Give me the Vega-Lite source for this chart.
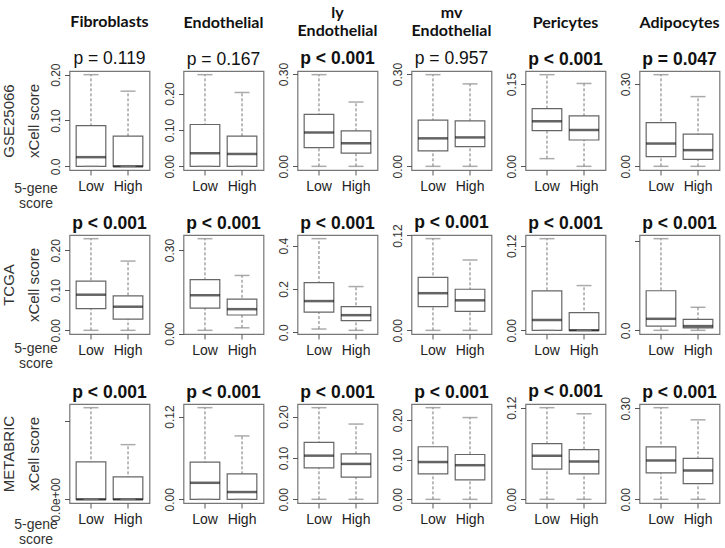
{
"$schema": "https://vega.github.io/schema/vega-lite/v6.json",
"padding": {"left": 0.5, "top": 4, "right": 2, "bottom": 2},
"background": "white",
"datasets": {"b": [
{"ds":"GSE25066","cell":"Fibroblasts","grp":"Low","lo":0,"q1":0,"med":0.020,"q3":0.089,"hi":0.200},
{"ds":"GSE25066","cell":"Fibroblasts","grp":"High","lo":0,"q1":0,"med":0,"q3":0.066,"hi":0.164},
{"ds":"GSE25066","cell":"Endothelial","grp":"Low","lo":0,"q1":0,"med":0.036,"q3":0.115,"hi":0.252},
{"ds":"GSE25066","cell":"Endothelial","grp":"High","lo":0,"q1":0,"med":0.034,"q3":0.083,"hi":0.203},
{"ds":"GSE25066","cell":"ly Endothelial","grp":"Low","lo":0,"q1":0.061,"med":0.110,"q3":0.169,"hi":0.298},
{"ds":"GSE25066","cell":"ly Endothelial","grp":"High","lo":0,"q1":0.043,"med":0.075,"q3":0.115,"hi":0.209},
{"ds":"GSE25066","cell":"mv Endothelial","grp":"Low","lo":0,"q1":0.050,"med":0.091,"q3":0.150,"hi":0.298},
{"ds":"GSE25066","cell":"mv Endothelial","grp":"High","lo":0,"q1":0.064,"med":0.094,"q3":0.148,"hi":0.268},
{"ds":"GSE25066","cell":"Pericytes","grp":"Low","lo":0.014,"q1":0.065,"med":0.082,"q3":0.105,"hi":0.167},
{"ds":"GSE25066","cell":"Pericytes","grp":"High","lo":0,"q1":0.048,"med":0.066,"q3":0.092,"hi":0.151},
{"ds":"GSE25066","cell":"Adipocytes","grp":"Low","lo":0,"q1":0.035,"med":0.083,"q3":0.159,"hi":0.334},
{"ds":"GSE25066","cell":"Adipocytes","grp":"High","lo":0,"q1":0.025,"med":0.059,"q3":0.117,"hi":0.254},
{"ds":"TCGA","cell":"Fibroblasts","grp":"Low","lo":0,"q1":0.054,"med":0.089,"q3":0.123,"hi":0.229},
{"ds":"TCGA","cell":"Fibroblasts","grp":"High","lo":0,"q1":0.028,"med":0.059,"q3":0.086,"hi":0.173},
{"ds":"TCGA","cell":"Endothelial","grp":"Low","lo":0.012,"q1":0.092,"med":0.138,"q3":0.194,"hi":0.341},
{"ds":"TCGA","cell":"Endothelial","grp":"High","lo":0.021,"q1":0.067,"med":0.088,"q3":0.124,"hi":0.209},
{"ds":"TCGA","cell":"ly Endothelial","grp":"Low","lo":0.015,"q1":0.093,"med":0.144,"q3":0.229,"hi":0.432},
{"ds":"TCGA","cell":"ly Endothelial","grp":"High","lo":0.009,"q1":0.054,"med":0.079,"q3":0.118,"hi":0.211},
{"ds":"TCGA","cell":"mv Endothelial","grp":"Low","lo":0,"q1":0.030,"med":0.047,"q3":0.067,"hi":0.116},
{"ds":"TCGA","cell":"mv Endothelial","grp":"High","lo":0,"q1":0.024,"med":0.038,"q3":0.052,"hi":0.089},
{"ds":"TCGA","cell":"Pericytes","grp":"Low","lo":0,"q1":0,"med":0.0145,"q3":0.056,"hi":0.130},
{"ds":"TCGA","cell":"Pericytes","grp":"High","lo":0,"q1":0,"med":0,"q3":0.025,"hi":0.0635},
{"ds":"TCGA","cell":"Adipocytes","grp":"Low","lo":0,"q1":0.033,"med":0.090,"q3":0.309,"hi":0.716},
{"ds":"TCGA","cell":"Adipocytes","grp":"High","lo":0,"q1":0.020,"med":0.033,"q3":0.085,"hi":0.180},
{"ds":"METABRIC","cell":"Fibroblasts","grp":"Low","lo":0,"q1":0,"med":0,"q3":7.2e-18,"hi":1.76e-17},
{"ds":"METABRIC","cell":"Fibroblasts","grp":"High","lo":0,"q1":0,"med":0,"q3":4.3e-18,"hi":1.05e-17},
{"ds":"METABRIC","cell":"Endothelial","grp":"Low","lo":0,"q1":0,"med":0.024,"q3":0.054,"hi":0.133},
{"ds":"METABRIC","cell":"Endothelial","grp":"High","lo":0,"q1":0,"med":0.0106,"q3":0.037,"hi":0.092},
{"ds":"METABRIC","cell":"ly Endothelial","grp":"Low","lo":0,"q1":0.076,"med":0.1056,"q3":0.1376,"hi":0.2216},
{"ds":"METABRIC","cell":"ly Endothelial","grp":"High","lo":0,"q1":0.0536,"med":0.0856,"q3":0.110,"hi":0.182},
{"ds":"METABRIC","cell":"mv Endothelial","grp":"Low","lo":0,"q1":0.064,"med":0.094,"q3":0.1325,"hi":0.231},
{"ds":"METABRIC","cell":"mv Endothelial","grp":"High","lo":0,"q1":0.049,"med":0.086,"q3":0.113,"hi":0.206},
{"ds":"METABRIC","cell":"Pericytes","grp":"Low","lo":0,"q1":0.0395,"med":0.057,"q3":0.073,"hi":0.120},
{"ds":"METABRIC","cell":"Pericytes","grp":"High","lo":0,"q1":0.0334,"med":0.0494,"q3":0.065,"hi":0.112},
{"ds":"METABRIC","cell":"Adipocytes","grp":"Low","lo":0,"q1":0.087,"med":0.128,"q3":0.173,"hi":0.302},
{"ds":"METABRIC","cell":"Adipocytes","grp":"High","lo":0,"q1":0.052,"med":0.095,"q3":0.135,"hi":0.262}
]},
"data": {"name": "b"},
"spacing": 1,
"vconcat": [
{"spacing": 10, "hconcat": [
{"width":80,"height":99,
"title":{"text":"Fibroblasts","subtitle":"p = 0.119","font":"Lato","fontWeight":"bold","fontSize":16,"subtitleFontWeight":"normal","subtitlePadding":20,"offset":-5},
"transform":[{"filter":"datum.ds==='GSE25066'&&datum.cell==='Fibroblasts'"}],
"encoding":{"x":{"field":"grp","type":"nominal","scale":{"domain":["Low","High"],"paddingInner":0,"paddingOuter":0.08},"title":["5-gene","score"],"axis":{"titleX":-34,"titleY":11,"titleAlign":"center","titleBaseline":"top","titleFontSize":14,"titleLineHeight":15.5}}},
"layer":[
{"mark":"rule","encoding":{"y":{"field":"lo","type":"quantitative","scale":{"domain":[-0.008,0.208],"nice":false,"zero":false},"title":["GSE25066","xCell score"],"axis":{"values":[0,0.05,0.1,0.15,0.2],"labelExpr":"datum.value===0?'0.0':indexof([0.1,0.2],datum.value)>=0?format(datum.value,'.2f'):''"}},"y2":{"field":"hi"}}},
{"mark":{"type":"bar","width":{"band":0.8}},"encoding":{"y":{"field":"q1","type":"quantitative","scale":{"domain":[-0.008,0.208],"nice":false,"zero":false},"title":["GSE25066","xCell score"]},"y2":{"field":"q3"}}},
{"mark":{"type":"tick","color":"#222","thickness":2.5,"size":30},"encoding":{"y":{"field":"med","type":"quantitative","scale":{"domain":[-0.008,0.208],"nice":false,"zero":false},"title":["GSE25066","xCell score"]}}},
{"mark":"tick","encoding":{"y":{"field":"hi","type":"quantitative","scale":{"domain":[-0.008,0.208],"nice":false,"zero":false},"title":["GSE25066","xCell score"]}}},
{"mark":"tick","encoding":{"y":{"field":"lo","type":"quantitative","scale":{"domain":[-0.008,0.208],"nice":false,"zero":false},"title":["GSE25066","xCell score"]}}}
]},
{"width":80,"height":99,
"title":{"text":"Endothelial","subtitle":"p = 0.167","font":"Lato","fontWeight":"bold","fontSize":16,"subtitleFontWeight":"normal","subtitlePadding":20,"offset":3},
"transform":[{"filter":"datum.ds==='GSE25066'&&datum.cell==='Endothelial'"}],
"encoding":{"x":{"field":"grp","type":"nominal","scale":{"domain":["Low","High"],"paddingInner":0,"paddingOuter":0.08},"title":null}},
"layer":[
{"mark":"rule","encoding":{"y":{"field":"lo","type":"quantitative","scale":{"domain":[-0.0101,0.2621],"nice":false,"zero":false},"title":null,"axis":{"values":[0,0.05,0.1,0.15,0.2,0.25],"labelExpr":"indexof([0,0.1,0.2],datum.value)>=0?format(datum.value,'.2f'):''"}},"y2":{"field":"hi"}}},
{"mark":{"type":"bar","width":{"band":0.8}},"encoding":{"y":{"field":"q1","type":"quantitative","scale":{"domain":[-0.0101,0.2621],"nice":false,"zero":false},"title":null},"y2":{"field":"q3"}}},
{"mark":{"type":"tick","color":"#222","thickness":2.5,"size":30},"encoding":{"y":{"field":"med","type":"quantitative","scale":{"domain":[-0.0101,0.2621],"nice":false,"zero":false},"title":null}}},
{"mark":"tick","encoding":{"y":{"field":"hi","type":"quantitative","scale":{"domain":[-0.0101,0.2621],"nice":false,"zero":false},"title":null}}},
{"mark":"tick","encoding":{"y":{"field":"lo","type":"quantitative","scale":{"domain":[-0.0101,0.2621],"nice":false,"zero":false},"title":null}}}
]},
{"width":80,"height":99,
"title":{"text":["ly","Endothelial"],"subtitle":"p < 0.001","font":"Lato","fontWeight":"bold","fontSize":16,"lineHeight":18,"subtitleFontWeight":"bold","subtitlePadding":11,"offset":-5.6},
"transform":[{"filter":"datum.ds==='GSE25066'&&datum.cell==='ly Endothelial'"}],
"encoding":{"x":{"field":"grp","type":"nominal","scale":{"domain":["Low","High"],"paddingInner":0,"paddingOuter":0.08},"title":null}},
"layer":[
{"mark":"rule","encoding":{"y":{"field":"lo","type":"quantitative","scale":{"domain":[-0.0119,0.3099],"nice":false,"zero":false},"title":null,"axis":{"values":[0,0.05,0.1,0.15,0.2,0.25,0.3],"labelExpr":"indexof([0,0.1,0.2,0.3],datum.value)>=0?format(datum.value,'.2f'):''"}},"y2":{"field":"hi"}}},
{"mark":{"type":"bar","width":{"band":0.8}},"encoding":{"y":{"field":"q1","type":"quantitative","scale":{"domain":[-0.0119,0.3099],"nice":false,"zero":false},"title":null},"y2":{"field":"q3"}}},
{"mark":{"type":"tick","color":"#222","thickness":2.5,"size":30},"encoding":{"y":{"field":"med","type":"quantitative","scale":{"domain":[-0.0119,0.3099],"nice":false,"zero":false},"title":null}}},
{"mark":"tick","encoding":{"y":{"field":"hi","type":"quantitative","scale":{"domain":[-0.0119,0.3099],"nice":false,"zero":false},"title":null}}},
{"mark":"tick","encoding":{"y":{"field":"lo","type":"quantitative","scale":{"domain":[-0.0119,0.3099],"nice":false,"zero":false},"title":null}}}
]},
{"width":80,"height":99,
"title":{"text":["mv","Endothelial"],"subtitle":"p = 0.957","font":"Lato","fontWeight":"bold","fontSize":16,"lineHeight":18,"subtitleFontWeight":"normal","subtitlePadding":11,"offset":-5.6},
"transform":[{"filter":"datum.ds==='GSE25066'&&datum.cell==='mv Endothelial'"}],
"encoding":{"x":{"field":"grp","type":"nominal","scale":{"domain":["Low","High"],"paddingInner":0,"paddingOuter":0.08},"title":null}},
"layer":[
{"mark":"rule","encoding":{"y":{"field":"lo","type":"quantitative","scale":{"domain":[-0.0119,0.3099],"nice":false,"zero":false},"title":null,"axis":{"values":[0,0.05,0.1,0.15,0.2,0.25,0.3],"labelExpr":"indexof([0,0.1,0.2,0.3],datum.value)>=0?format(datum.value,'.2f'):''"}},"y2":{"field":"hi"}}},
{"mark":{"type":"bar","width":{"band":0.8}},"encoding":{"y":{"field":"q1","type":"quantitative","scale":{"domain":[-0.0119,0.3099],"nice":false,"zero":false},"title":null},"y2":{"field":"q3"}}},
{"mark":{"type":"tick","color":"#222","thickness":2.5,"size":30},"encoding":{"y":{"field":"med","type":"quantitative","scale":{"domain":[-0.0119,0.3099],"nice":false,"zero":false},"title":null}}},
{"mark":"tick","encoding":{"y":{"field":"hi","type":"quantitative","scale":{"domain":[-0.0119,0.3099],"nice":false,"zero":false},"title":null}}},
{"mark":"tick","encoding":{"y":{"field":"lo","type":"quantitative","scale":{"domain":[-0.0119,0.3099],"nice":false,"zero":false},"title":null}}}
]},
{"width":80,"height":99,
"title":{"text":"Pericytes","subtitle":"p < 0.001","font":"Lato","fontWeight":"bold","fontSize":16,"subtitleFontWeight":"bold","subtitlePadding":20,"offset":3},
"transform":[{"filter":"datum.ds==='GSE25066'&&datum.cell==='Pericytes'"}],
"encoding":{"x":{"field":"grp","type":"nominal","scale":{"domain":["Low","High"],"paddingInner":0,"paddingOuter":0.08},"title":null}},
"layer":[
{"mark":"rule","encoding":{"y":{"field":"lo","type":"quantitative","scale":{"domain":[-0.0067,0.1737],"nice":false,"zero":false},"title":null,"axis":{"values":[0,0.05,0.1,0.15],"format":".2f"}},"y2":{"field":"hi"}}},
{"mark":{"type":"bar","width":{"band":0.8}},"encoding":{"y":{"field":"q1","type":"quantitative","scale":{"domain":[-0.0067,0.1737],"nice":false,"zero":false},"title":null},"y2":{"field":"q3"}}},
{"mark":{"type":"tick","color":"#222","thickness":2.5,"size":30},"encoding":{"y":{"field":"med","type":"quantitative","scale":{"domain":[-0.0067,0.1737],"nice":false,"zero":false},"title":null}}},
{"mark":"tick","encoding":{"y":{"field":"hi","type":"quantitative","scale":{"domain":[-0.0067,0.1737],"nice":false,"zero":false},"title":null}}},
{"mark":"tick","encoding":{"y":{"field":"lo","type":"quantitative","scale":{"domain":[-0.0067,0.1737],"nice":false,"zero":false},"title":null}}}
]},
{"width":80,"height":99,
"title":{"text":"Adipocytes","subtitle":"p = 0.047","font":"Lato","fontWeight":"bold","fontSize":16,"subtitleFontWeight":"bold","subtitlePadding":20,"offset":3},
"transform":[{"filter":"datum.ds==='GSE25066'&&datum.cell==='Adipocytes'"}],
"encoding":{"x":{"field":"grp","type":"nominal","scale":{"domain":["Low","High"],"paddingInner":0,"paddingOuter":0.08},"title":null}},
"layer":[
{"mark":"rule","encoding":{"y":{"field":"lo","type":"quantitative","scale":{"domain":[-0.0134,0.3474],"nice":false,"zero":false},"title":null,"axis":{"values":[0,0.05,0.1,0.15,0.2,0.25,0.3],"labelExpr":"indexof([0,0.1,0.2,0.3],datum.value)>=0?format(datum.value,'.2f'):''"}},"y2":{"field":"hi"}}},
{"mark":{"type":"bar","width":{"band":0.8}},"encoding":{"y":{"field":"q1","type":"quantitative","scale":{"domain":[-0.0134,0.3474],"nice":false,"zero":false},"title":null},"y2":{"field":"q3"}}},
{"mark":{"type":"tick","color":"#222","thickness":2.5,"size":30},"encoding":{"y":{"field":"med","type":"quantitative","scale":{"domain":[-0.0134,0.3474],"nice":false,"zero":false},"title":null}}},
{"mark":"tick","encoding":{"y":{"field":"hi","type":"quantitative","scale":{"domain":[-0.0134,0.3474],"nice":false,"zero":false},"title":null}}},
{"mark":"tick","encoding":{"y":{"field":"lo","type":"quantitative","scale":{"domain":[-0.0134,0.3474],"nice":false,"zero":false},"title":null}}}
]}
]},
{"spacing": 10, "vconcat": [
{"spacing": 10, "hconcat": [
{"width":80,"height":99,
"title":{"text":"p < 0.001","fontWeight":"bold","offset":3},
"transform":[{"filter":"datum.ds==='TCGA'&&datum.cell==='Fibroblasts'"}],
"encoding":{"x":{"field":"grp","type":"nominal","scale":{"domain":["Low","High"],"paddingInner":0,"paddingOuter":0.08},"title":["5-gene","score"],"axis":{"titleX":-34,"titleY":7,"titleAlign":"center","titleBaseline":"top","titleFontSize":14,"titleLineHeight":15.5}}},
"layer":[
{"mark":"rule","encoding":{"y":{"field":"lo","type":"quantitative","scale":{"domain":[-0.0092,0.2382],"nice":false,"zero":false},"title":["TCGA","xCell score"],"axis":{"values":[0,0.05,0.1,0.15,0.2],"labelExpr":"indexof([0,0.1,0.2],datum.value)>=0?format(datum.value,'.2f'):''"}},"y2":{"field":"hi"}}},
{"mark":{"type":"bar","width":{"band":0.8}},"encoding":{"y":{"field":"q1","type":"quantitative","scale":{"domain":[-0.0092,0.2382],"nice":false,"zero":false},"title":["TCGA","xCell score"]},"y2":{"field":"q3"}}},
{"mark":{"type":"tick","color":"#222","thickness":2.5,"size":30},"encoding":{"y":{"field":"med","type":"quantitative","scale":{"domain":[-0.0092,0.2382],"nice":false,"zero":false},"title":["TCGA","xCell score"]}}},
{"mark":"tick","encoding":{"y":{"field":"hi","type":"quantitative","scale":{"domain":[-0.0092,0.2382],"nice":false,"zero":false},"title":["TCGA","xCell score"]}}},
{"mark":"tick","encoding":{"y":{"field":"lo","type":"quantitative","scale":{"domain":[-0.0092,0.2382],"nice":false,"zero":false},"title":["TCGA","xCell score"]}}}
]},
{"width":80,"height":99,
"title":{"text":"p < 0.001","fontWeight":"bold","offset":3},
"transform":[{"filter":"datum.ds==='TCGA'&&datum.cell==='Endothelial'"}],
"encoding":{"x":{"field":"grp","type":"nominal","scale":{"domain":["Low","High"],"paddingInner":0,"paddingOuter":0.08},"title":null}},
"layer":[
{"mark":"rule","encoding":{"y":{"field":"lo","type":"quantitative","scale":{"domain":[-0.0012,0.3542],"nice":false,"zero":false},"title":null,"axis":{"values":[0,0.05,0.1,0.15,0.2,0.25,0.3],"labelExpr":"indexof([0,0.1,0.2,0.3],datum.value)>=0?format(datum.value,'.2f'):''"}},"y2":{"field":"hi"}}},
{"mark":{"type":"bar","width":{"band":0.8}},"encoding":{"y":{"field":"q1","type":"quantitative","scale":{"domain":[-0.0012,0.3542],"nice":false,"zero":false},"title":null},"y2":{"field":"q3"}}},
{"mark":{"type":"tick","color":"#222","thickness":2.5,"size":30},"encoding":{"y":{"field":"med","type":"quantitative","scale":{"domain":[-0.0012,0.3542],"nice":false,"zero":false},"title":null}}},
{"mark":"tick","encoding":{"y":{"field":"hi","type":"quantitative","scale":{"domain":[-0.0012,0.3542],"nice":false,"zero":false},"title":null}}},
{"mark":"tick","encoding":{"y":{"field":"lo","type":"quantitative","scale":{"domain":[-0.0012,0.3542],"nice":false,"zero":false},"title":null}}}
]},
{"width":80,"height":99,
"title":{"text":"p < 0.001","fontWeight":"bold","offset":3},
"transform":[{"filter":"datum.ds==='TCGA'&&datum.cell==='ly Endothelial'"}],
"encoding":{"x":{"field":"grp","type":"nominal","scale":{"domain":["Low","High"],"paddingInner":0,"paddingOuter":0.08},"title":null}},
"layer":[
{"mark":"rule","encoding":{"y":{"field":"lo","type":"quantitative","scale":{"domain":[-0.0079,0.4489],"nice":false,"zero":false},"title":null,"axis":{"values":[0,0.1,0.2,0.3,0.4],"format":".1f"}},"y2":{"field":"hi"}}},
{"mark":{"type":"bar","width":{"band":0.8}},"encoding":{"y":{"field":"q1","type":"quantitative","scale":{"domain":[-0.0079,0.4489],"nice":false,"zero":false},"title":null},"y2":{"field":"q3"}}},
{"mark":{"type":"tick","color":"#222","thickness":2.5,"size":30},"encoding":{"y":{"field":"med","type":"quantitative","scale":{"domain":[-0.0079,0.4489],"nice":false,"zero":false},"title":null}}},
{"mark":"tick","encoding":{"y":{"field":"hi","type":"quantitative","scale":{"domain":[-0.0079,0.4489],"nice":false,"zero":false},"title":null}}},
{"mark":"tick","encoding":{"y":{"field":"lo","type":"quantitative","scale":{"domain":[-0.0079,0.4489],"nice":false,"zero":false},"title":null}}}
]},
{"width":80,"height":99,
"title":{"text":"p < 0.001","fontWeight":"bold","offset":-8.2},
"transform":[{"filter":"datum.ds==='TCGA'&&datum.cell==='mv Endothelial'"}],
"encoding":{"x":{"field":"grp","type":"nominal","scale":{"domain":["Low","High"],"paddingInner":0,"paddingOuter":0.08},"title":null}},
"layer":[
{"mark":"rule","encoding":{"y":{"field":"lo","type":"quantitative","scale":{"domain":[-0.0046,0.1206],"nice":false,"zero":false},"title":null,"axis":{"values":[0,0.02,0.04,0.06,0.08,0.1,0.12],"labelExpr":"indexof([0,0.04,0.08,0.12],datum.value)>=0?format(datum.value,'.2f'):''"}},"y2":{"field":"hi"}}},
{"mark":{"type":"bar","width":{"band":0.8}},"encoding":{"y":{"field":"q1","type":"quantitative","scale":{"domain":[-0.0046,0.1206],"nice":false,"zero":false},"title":null},"y2":{"field":"q3"}}},
{"mark":{"type":"tick","color":"#222","thickness":2.5,"size":30},"encoding":{"y":{"field":"med","type":"quantitative","scale":{"domain":[-0.0046,0.1206],"nice":false,"zero":false},"title":null}}},
{"mark":"tick","encoding":{"y":{"field":"hi","type":"quantitative","scale":{"domain":[-0.0046,0.1206],"nice":false,"zero":false},"title":null}}},
{"mark":"tick","encoding":{"y":{"field":"lo","type":"quantitative","scale":{"domain":[-0.0046,0.1206],"nice":false,"zero":false},"title":null}}}
]},
{"width":80,"height":99,
"title":{"text":"p < 0.001","fontWeight":"bold","offset":2},
"transform":[{"filter":"datum.ds==='TCGA'&&datum.cell==='Pericytes'"}],
"encoding":{"x":{"field":"grp","type":"nominal","scale":{"domain":["Low","High"],"paddingInner":0,"paddingOuter":0.08},"title":null}},
"layer":[
{"mark":"rule","encoding":{"y":{"field":"lo","type":"quantitative","scale":{"domain":[-0.0052,0.1352],"nice":false,"zero":false},"title":null,"axis":{"values":[0,0.02,0.04,0.06,0.08,0.1,0.12],"labelExpr":"indexof([0,0.04,0.08,0.12],datum.value)>=0?format(datum.value,'.2f'):''"}},"y2":{"field":"hi"}}},
{"mark":{"type":"bar","width":{"band":0.8}},"encoding":{"y":{"field":"q1","type":"quantitative","scale":{"domain":[-0.0052,0.1352],"nice":false,"zero":false},"title":null},"y2":{"field":"q3"}}},
{"mark":{"type":"tick","color":"#222","thickness":2.5,"size":30},"encoding":{"y":{"field":"med","type":"quantitative","scale":{"domain":[-0.0052,0.1352],"nice":false,"zero":false},"title":null}}},
{"mark":"tick","encoding":{"y":{"field":"hi","type":"quantitative","scale":{"domain":[-0.0052,0.1352],"nice":false,"zero":false},"title":null}}},
{"mark":"tick","encoding":{"y":{"field":"lo","type":"quantitative","scale":{"domain":[-0.0052,0.1352],"nice":false,"zero":false},"title":null}}}
]},
{"width":80,"height":99,
"title":{"text":"p < 0.001","fontWeight":"bold","offset":3},
"transform":[{"filter":"datum.ds==='TCGA'&&datum.cell==='Adipocytes'"}],
"encoding":{"x":{"field":"grp","type":"nominal","scale":{"domain":["Low","High"],"paddingInner":0,"paddingOuter":0.08},"title":null}},
"layer":[
{"mark":"rule","encoding":{"y":{"field":"lo","type":"quantitative","scale":{"domain":[-0.0286,0.7446],"nice":false,"zero":false},"title":null,"axis":{"values":[0,0.1,0.2,0.3,0.4,0.5,0.6,0.7],"labelExpr":"indexof([0,0.2,0.4,0.6],datum.value)>=0?format(datum.value,'.1f'):''"}},"y2":{"field":"hi"}}},
{"mark":{"type":"bar","width":{"band":0.8}},"encoding":{"y":{"field":"q1","type":"quantitative","scale":{"domain":[-0.0286,0.7446],"nice":false,"zero":false},"title":null},"y2":{"field":"q3"}}},
{"mark":{"type":"tick","color":"#222","thickness":2.5,"size":30},"encoding":{"y":{"field":"med","type":"quantitative","scale":{"domain":[-0.0286,0.7446],"nice":false,"zero":false},"title":null}}},
{"mark":"tick","encoding":{"y":{"field":"hi","type":"quantitative","scale":{"domain":[-0.0286,0.7446],"nice":false,"zero":false},"title":null}}},
{"mark":"tick","encoding":{"y":{"field":"lo","type":"quantitative","scale":{"domain":[-0.0286,0.7446],"nice":false,"zero":false},"title":null}}}
]}
]},
{"spacing": 10, "hconcat": [
{"width":80,"height":99,
"title":{"text":"p < 0.001","fontWeight":"bold","offset":3},
"transform":[{"filter":"datum.ds==='METABRIC'&&datum.cell==='Fibroblasts'"}],
"encoding":{"x":{"field":"grp","type":"nominal","scale":{"domain":["Low","High"],"paddingInner":0,"paddingOuter":0.08},"title":["5-gene","score"],"axis":{"titleX":-34,"titleY":14,"titleAlign":"center","titleBaseline":"top","titleFontSize":14,"titleLineHeight":15.5}}},
"layer":[
{"mark":"rule","encoding":{"y":{"field":"lo","type":"quantitative","scale":{"domain":[-7.04e-19,1.8304e-17],"nice":false,"zero":false},"title":["METABRIC","xCell score"],"axis":{"values":[0,5e-18,1e-17,1.5e-17],"labelExpr":"datum.value===0?'0.0e+00':datum.value===1e-17?'1.0e-17':''"}},"y2":{"field":"hi"}}},
{"mark":{"type":"bar","width":{"band":0.8}},"encoding":{"y":{"field":"q1","type":"quantitative","scale":{"domain":[-7.04e-19,1.8304e-17],"nice":false,"zero":false},"title":["METABRIC","xCell score"]},"y2":{"field":"q3"}}},
{"mark":{"type":"tick","color":"#222","thickness":2.5,"size":30},"encoding":{"y":{"field":"med","type":"quantitative","scale":{"domain":[-7.04e-19,1.8304e-17],"nice":false,"zero":false},"title":["METABRIC","xCell score"]}}},
{"mark":"tick","encoding":{"y":{"field":"hi","type":"quantitative","scale":{"domain":[-7.04e-19,1.8304e-17],"nice":false,"zero":false},"title":["METABRIC","xCell score"]}}},
{"mark":"tick","encoding":{"y":{"field":"lo","type":"quantitative","scale":{"domain":[-7.04e-19,1.8304e-17],"nice":false,"zero":false},"title":["METABRIC","xCell score"]}}}
]},
{"width":80,"height":99,
"title":{"text":"p < 0.001","fontWeight":"bold","offset":3},
"transform":[{"filter":"datum.ds==='METABRIC'&&datum.cell==='Endothelial'"}],
"encoding":{"x":{"field":"grp","type":"nominal","scale":{"domain":["Low","High"],"paddingInner":0,"paddingOuter":0.08},"title":null}},
"layer":[
{"mark":"rule","encoding":{"y":{"field":"lo","type":"quantitative","scale":{"domain":[-0.0053,0.1383],"nice":false,"zero":false},"title":null,"axis":{"values":[0,0.02,0.04,0.06,0.08,0.1,0.12],"labelExpr":"indexof([0,0.04,0.08,0.12],datum.value)>=0?format(datum.value,'.2f'):''"}},"y2":{"field":"hi"}}},
{"mark":{"type":"bar","width":{"band":0.8}},"encoding":{"y":{"field":"q1","type":"quantitative","scale":{"domain":[-0.0053,0.1383],"nice":false,"zero":false},"title":null},"y2":{"field":"q3"}}},
{"mark":{"type":"tick","color":"#222","thickness":2.5,"size":30},"encoding":{"y":{"field":"med","type":"quantitative","scale":{"domain":[-0.0053,0.1383],"nice":false,"zero":false},"title":null}}},
{"mark":"tick","encoding":{"y":{"field":"hi","type":"quantitative","scale":{"domain":[-0.0053,0.1383],"nice":false,"zero":false},"title":null}}},
{"mark":"tick","encoding":{"y":{"field":"lo","type":"quantitative","scale":{"domain":[-0.0053,0.1383],"nice":false,"zero":false},"title":null}}}
]},
{"width":80,"height":99,
"title":{"text":"p < 0.001","fontWeight":"bold","offset":3},
"transform":[{"filter":"datum.ds==='METABRIC'&&datum.cell==='ly Endothelial'"}],
"encoding":{"x":{"field":"grp","type":"nominal","scale":{"domain":["Low","High"],"paddingInner":0,"paddingOuter":0.08},"title":null}},
"layer":[
{"mark":"rule","encoding":{"y":{"field":"lo","type":"quantitative","scale":{"domain":[-0.0089,0.2305],"nice":false,"zero":false},"title":null,"axis":{"values":[0,0.05,0.1,0.15,0.2],"labelExpr":"indexof([0,0.1,0.2],datum.value)>=0?format(datum.value,'.2f'):''"}},"y2":{"field":"hi"}}},
{"mark":{"type":"bar","width":{"band":0.8}},"encoding":{"y":{"field":"q1","type":"quantitative","scale":{"domain":[-0.0089,0.2305],"nice":false,"zero":false},"title":null},"y2":{"field":"q3"}}},
{"mark":{"type":"tick","color":"#222","thickness":2.5,"size":30},"encoding":{"y":{"field":"med","type":"quantitative","scale":{"domain":[-0.0089,0.2305],"nice":false,"zero":false},"title":null}}},
{"mark":"tick","encoding":{"y":{"field":"hi","type":"quantitative","scale":{"domain":[-0.0089,0.2305],"nice":false,"zero":false},"title":null}}},
{"mark":"tick","encoding":{"y":{"field":"lo","type":"quantitative","scale":{"domain":[-0.0089,0.2305],"nice":false,"zero":false},"title":null}}}
]},
{"width":80,"height":99,
"title":{"text":"p < 0.001","fontWeight":"bold","offset":3},
"transform":[{"filter":"datum.ds==='METABRIC'&&datum.cell==='mv Endothelial'"}],
"encoding":{"x":{"field":"grp","type":"nominal","scale":{"domain":["Low","High"],"paddingInner":0,"paddingOuter":0.08},"title":null}},
"layer":[
{"mark":"rule","encoding":{"y":{"field":"lo","type":"quantitative","scale":{"domain":[-0.0092,0.2402],"nice":false,"zero":false},"title":null,"axis":{"values":[0,0.05,0.1,0.15,0.2],"labelExpr":"indexof([0,0.1,0.2],datum.value)>=0?format(datum.value,'.2f'):''"}},"y2":{"field":"hi"}}},
{"mark":{"type":"bar","width":{"band":0.8}},"encoding":{"y":{"field":"q1","type":"quantitative","scale":{"domain":[-0.0092,0.2402],"nice":false,"zero":false},"title":null},"y2":{"field":"q3"}}},
{"mark":{"type":"tick","color":"#222","thickness":2.5,"size":30},"encoding":{"y":{"field":"med","type":"quantitative","scale":{"domain":[-0.0092,0.2402],"nice":false,"zero":false},"title":null}}},
{"mark":"tick","encoding":{"y":{"field":"hi","type":"quantitative","scale":{"domain":[-0.0092,0.2402],"nice":false,"zero":false},"title":null}}},
{"mark":"tick","encoding":{"y":{"field":"lo","type":"quantitative","scale":{"domain":[-0.0092,0.2402],"nice":false,"zero":false},"title":null}}}
]},
{"width":80,"height":99,
"title":{"text":"p < 0.001","fontWeight":"bold","offset":-5},
"transform":[{"filter":"datum.ds==='METABRIC'&&datum.cell==='Pericytes'"}],
"encoding":{"x":{"field":"grp","type":"nominal","scale":{"domain":["Low","High"],"paddingInner":0,"paddingOuter":0.08},"title":null}},
"layer":[
{"mark":"rule","encoding":{"y":{"field":"lo","type":"quantitative","scale":{"domain":[-0.0048,0.1248],"nice":false,"zero":false},"title":null,"axis":{"values":[0,0.02,0.04,0.06,0.08,0.1,0.12],"labelExpr":"indexof([0,0.04,0.08,0.12],datum.value)>=0?format(datum.value,'.2f'):''"}},"y2":{"field":"hi"}}},
{"mark":{"type":"bar","width":{"band":0.8}},"encoding":{"y":{"field":"q1","type":"quantitative","scale":{"domain":[-0.0048,0.1248],"nice":false,"zero":false},"title":null},"y2":{"field":"q3"}}},
{"mark":{"type":"tick","color":"#222","thickness":2.5,"size":30},"encoding":{"y":{"field":"med","type":"quantitative","scale":{"domain":[-0.0048,0.1248],"nice":false,"zero":false},"title":null}}},
{"mark":"tick","encoding":{"y":{"field":"hi","type":"quantitative","scale":{"domain":[-0.0048,0.1248],"nice":false,"zero":false},"title":null}}},
{"mark":"tick","encoding":{"y":{"field":"lo","type":"quantitative","scale":{"domain":[-0.0048,0.1248],"nice":false,"zero":false},"title":null}}}
]},
{"width":80,"height":99,
"title":{"text":"p < 0.001","fontWeight":"bold","offset":-4.4},
"transform":[{"filter":"datum.ds==='METABRIC'&&datum.cell==='Adipocytes'"}],
"encoding":{"x":{"field":"grp","type":"nominal","scale":{"domain":["Low","High"],"paddingInner":0,"paddingOuter":0.08},"title":null}},
"layer":[
{"mark":"rule","encoding":{"y":{"field":"lo","type":"quantitative","scale":{"domain":[-0.0121,0.3141],"nice":false,"zero":false},"title":null,"axis":{"values":[0,0.05,0.1,0.15,0.2,0.25,0.3],"labelExpr":"indexof([0,0.1,0.2,0.3],datum.value)>=0?format(datum.value,'.2f'):''"}},"y2":{"field":"hi"}}},
{"mark":{"type":"bar","width":{"band":0.8}},"encoding":{"y":{"field":"q1","type":"quantitative","scale":{"domain":[-0.0121,0.3141],"nice":false,"zero":false},"title":null},"y2":{"field":"q3"}}},
{"mark":{"type":"tick","color":"#222","thickness":2.5,"size":30},"encoding":{"y":{"field":"med","type":"quantitative","scale":{"domain":[-0.0121,0.3141],"nice":false,"zero":false},"title":null}}},
{"mark":"tick","encoding":{"y":{"field":"hi","type":"quantitative","scale":{"domain":[-0.0121,0.3141],"nice":false,"zero":false},"title":null}}},
{"mark":"tick","encoding":{"y":{"field":"lo","type":"quantitative","scale":{"domain":[-0.0121,0.3141],"nice":false,"zero":false},"title":null}}}
]}
]}
]}
],
"config": {
"view": {"stroke": "#777", "strokeWidth": 1.2},
"font": "Liberation Sans",
"rule": {"color": "#777", "strokeDash": [3, 2], "strokeWidth": 1},
"bar": {"fill": "white", "stroke": "#666", "strokeWidth": 1.2},
"tick": {"color": "#888", "thickness": 1.5, "size": 15},
"axis": {"grid": false, "domain": false, "tickColor": "#555", "labelColor": "#333", "titleColor": "#333", "titleFontWeight": "normal", "labelFont": "Liberation Sans", "titleFont": "Liberation Sans"},
"axisY": {"labelAngle": -90, "labelAlign": "center", "labelBaseline": "bottom", "labelFontSize": 12, "tickSize": 5, "labelPadding": 2, "minExtent": 22, "maxExtent": 22, "labelFlush": false, "labelOverlap": false, "titleFontSize": 15, "titlePadding": 6, "titleLineHeight": 25},
"axisX": {"labelAngle": 0, "labelFontSize": 14, "tickSize": 5, "labelPadding": 4, "bandPosition": 0.5, "labelColor": "#222"},
"title": {"anchor": "middle", "frame": "group", "font": "Liberation Sans", "fontSize": 17.5, "color": "#111", "subtitleFont": "Liberation Sans", "subtitleFontSize": 17.5, "subtitleColor": "#111"}
}
}
